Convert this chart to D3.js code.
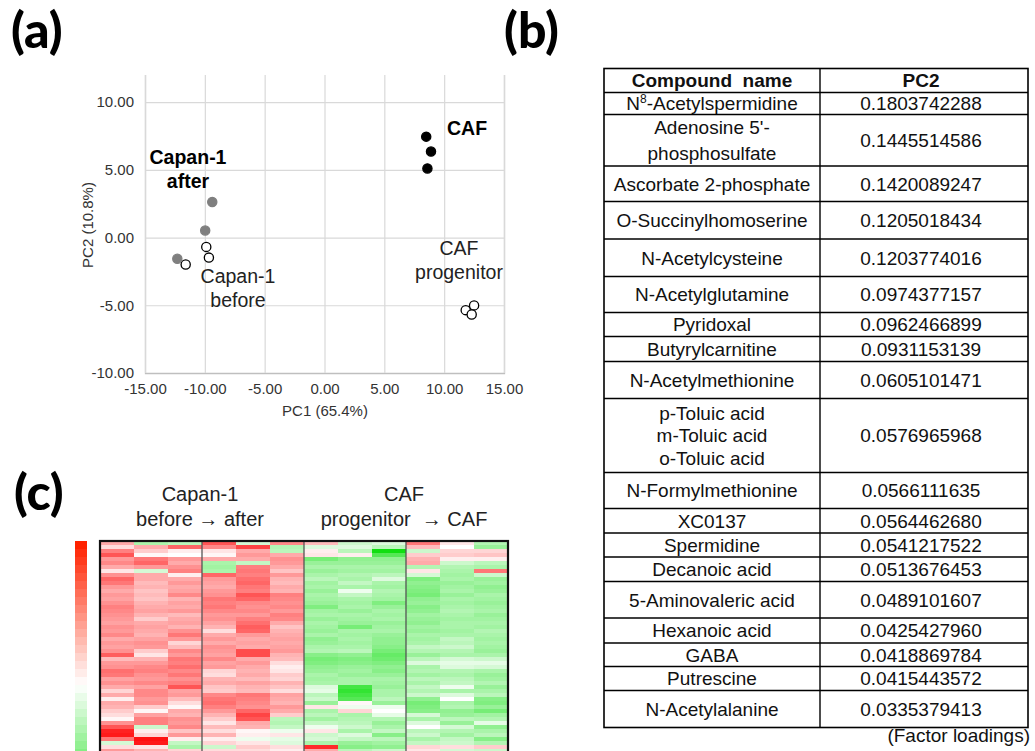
<!DOCTYPE html>
<html>
<head>
<meta charset="utf-8">
<script src="https://cdn.jsdelivr.net/npm/d3@7"></script>
<style>
  body { margin: 0; background: #fff; }
  svg { display: block; }
  text { font-family: "Liberation Sans", Arial, sans-serif; }
</style>
</head>
<body>
<svg id="fig" width="1035" height="751"></svg>
<script>
// ---- (a) PCA scores ----
const capanBeforePts = [[-9.88, -0.69], [-9.66, -1.48], [-11.6, -1.99]];
const capanAfterPts = [[-9.38, 2.63], [-9.97, 0.52], [-12.3, -1.57]];
const cafProgenitorPts = [[12.5, -5.01], [11.8, -5.36], [12.3, -5.68]];
const cafPts = [[8.5, 7.45], [8.9, 6.35], [8.6, 5.1]];
const pcaTicksX = [-15, -10, -5, 0, 5, 10, 15];
const pcaTicksY = [-10, -5, 0, 5, 10];

// ---- (b) factor loadings ----
const compoundNames = [
  ["N^8-Acetylspermidine"], ["Adenosine 5'-", "phosphosulfate"], ["Ascorbate 2-phosphate"],
  ["O-Succinylhomoserine"], ["N-Acetylcysteine"], ["N-Acetylglutamine"], ["Pyridoxal"],
  ["Butyrylcarnitine"], ["N-Acetylmethionine"], ["p-Toluic acid", "m-Toluic acid", "o-Toluic acid"],
  ["N-Formylmethionine"], ["XC0137"], ["Spermidine"], ["Decanoic acid"], ["5-Aminovaleric acid"],
  ["Hexanoic acid"], ["GABA"], ["Putrescine"], ["N-Acetylalanine"]
];
const pc2Loadings = [
  0.1803742288, 0.1445514586, 0.1420089247, 0.1205018434, 0.1203774016, 0.0974377157,
  0.0962466899, 0.0931153139, 0.0605101471, 0.0576965968, 0.0566111635, 0.0564462680,
  0.0541217522, 0.0513676453, 0.0489101607, 0.0425427960, 0.0418869784, 0.0415443572,
  0.0335379413
];

// ---- (c) heatmap, z-scores per column (rows top to bottom) ----
const capanBefore = [
  [1.0,0.4,1.5,2.0,1.2,1.4,1.0,0.3,1.3,1.8,1.6,1.2,1.0, 1.2,1.1,1.3,1.5,1.4,1.3,1.2,1.1,1.3,1.2,1.4,1.0,
   1.2,1.1,1.3,1.9,0.8,1.2,1.3,1.7,1.6,1.1,1.3,1.0,0.5, 1.0,0.2,1.0,0.9,0.6,0.4,0.1,1.3,2.0,2.6,2.7,1.6,-0.5,0.4,1.2,1.0],
  [-1.0,1.0,0.6,0.1,1.6,1.8,1.2,-0.5,1.0,1.0,0.8,0.9,0.7, 0.8,0.7,0.9,1.0,1.1,0.9,0.6,1.0,1.1,1.0,0.9,1.1,
   1.3,1.2,0.6,0.3,0.9,1.2,1.4,1.5,1.3,1.2,1.4,1.1,1.4, 1.4,1.2,1.3,0.6,0.1,1.1,1.5,1.5,-0.6,0.2,0.5,2.8,2.7,0.3,0.9,0.6],
  [-0.8,1.8,0.2,0.0,1.2,1.0,1.3,1.5,0.2,1.0,1.2,1.0,1.1, 1.4,0.9,1.1,1.0,1.2,0.8,1.0,1.1,0.9,1.3,1.6,1.2,
   0.5,0.8,1.4,1.2,1.6,1.5,1.7,1.4,1.6,1.3,1.5,2.0,1.1, 1.2,0.8,0.4,0.1,1.0,0.9,1.3,1.2,1.4,0.7,1.2,0.2,-0.7,-1.0,0.5,0.8]
];
const capanAfter = [
  [2.0,1.4,0.3,0.1,1.0,-1.0,-1.1,-1.0,1.8,1.2,1.1,1.0,1.2, 1.3,1.6,1.5,1.6,1.4,1.2,1.3,1.1,0.9,0.4,1.0,1.2,
   1.0,1.3,1.2,1.1,1.4,1.1,1.2,0.5,0.4,0.9,1.0,0.7,0.6, 1.4,1.6,1.7,1.5,1.2,0.9,0.6,0.3,0.8,0.4,0.9,0.2,0.5,-0.6,0.4,0.6],
  [-0.5,2.2,1.0,1.2,1.0,-0.7,1.5,1.6,1.5,1.7,1.8,1.6,1.5, 2.0,1.8,1.4,1.3,1.4,1.2,1.5,1.7,1.9,1.8,1.2,1.0,
   1.1,1.0,2.1,2.1,1.0,1.2,1.0,0.9,1.0,0.8,1.1,0.9,0.8, 1.6,1.5,1.4,1.3,1.8,2.2,2.0,1.0,0.9,0.1,0.2,-0.2,0.3,0.6,0.4,0.5],
  [1.4,-0.9,-0.8,1.0,1.3,1.2,1.0,0.7,1.2,0.9,0.8,1.0,0.9, 1.5,1.4,1.3,1.4,1.2,1.5,1.4,1.0,0.7,0.9,1.0,1.1,
   1.0,1.1,1.2,0.9,0.8,0.4,0.2,0.3,0.6,0.5,0.9,0.7,0.4, 1.1,1.0,0.9,1.2,1.0,0.6,-0.8,-0.9,-0.7,-0.2,0.3,-0.3,-0.4,0.4,0.2,0.3]
];
const cafProgenitor = [
  [0.8,-0.4,0.2,0.3,-1.6,-1.2,-1.0,-1.2,-1.0,-0.8,-1.1,-1.0,-1.2, -1.0,-1.1,-1.2,-1.5,-1.1,-1.0,-1.2,-1.0,-1.1,-1.2,-1.0,-1.3,
   -1.2,-1.0,-0.9,-1.4,-1.6,-1.5,-1.3,-1.2,-1.0,-1.1,-1.0,-0.4,-0.3, -0.8,-0.6,-1.2,0.3,-1.0,-0.8,-1.1,-0.7,-0.2,0.3,-0.6,-0.5,-1.0,2.5,1.0,0.6],
  [-0.6,-0.4,-0.8,0.2,-1.3,-1.2,-1.0,-1.1,-0.9,-1.0,-0.7,-1.0,-0.2, -0.7,-1.0,-1.1,-1.0,-1.2,-1.0,-1.1,-1.2,-1.6,-1.0,-1.1,-1.0,
   -1.1,-1.0,-0.8,-1.3,-1.5,-1.4,-1.2,-1.1,-1.2,-1.0,-1.0,-2.2,-2.4, -2.2,-2.0,0.1,-0.2,0.5,-1.0,-0.9,-0.8,-0.6,-1.0,-0.4,-0.7,-1.2,-1.4,-0.8,-0.5],
  [-0.4,-0.8,-2.8,-2.0,-1.3,-1.2,-1.0,-1.1,-0.8,-0.4,-1.0,-1.1,-0.9, -1.0,-1.1,-1.5,-1.2,-1.0,-1.1,-1.0,-1.2,-1.1,-1.0,-1.2,-1.3,
   -1.3,-1.4,-1.6,-1.8,-1.7,-1.5,-1.3,-1.4,-1.2,-1.0,-1.1,-1.2,-1.0, -1.0,-0.8,-1.2,-0.2,0.0,-0.3,-0.9,-1.2,-1.0,-0.7,-1.4,-0.8,-1.1,-1.3,-0.6,-0.4]
];
const caf = [
  [1.6,0.8,-0.6,0.6,0.9,1.0,-0.9,0.3,-0.5,-1.5,-1.3,-1.4,-1.5, -1.6,-1.3,-1.2,-1.4,-1.3,-1.1,-1.2,-1.3,-1.1,-1.2,-1.0,-1.1,
   -1.0,-0.7,-0.9,-1.2,-0.8,-0.4,-1.0,-0.9,-1.1,-0.8,-1.0,-0.7,-0.9, -0.6,-1.3,-1.6,-1.5,-1.4,-0.5,-1.0,-0.4,0.0,-0.8,-0.6,-1.0,-0.7,0.5,0.3,-0.3],
  [0.3,0.0,0.5,0.6,0.2,-0.6,-0.9,-1.0,-1.1,-1.0,-1.2,-1.1,-1.0, -1.2,-1.0,-1.1,-1.0,-0.9,-1.0,-1.1,-1.0,-1.0,-1.1,-1.0,-0.7,
   -0.8,-0.6,-0.9,-1.0,-0.5,-0.3,-0.4,-0.9,-1.0,-0.8,-0.7,-0.2,-1.0, -0.4,0.0,-1.0,-0.9,-1.3,-1.2,-0.8,-1.2,-0.5,-0.9,-1.1,-0.7,-0.6,0.4,-0.5,-0.4],
  [-0.9,-1.2,0.5,0.7,0.2,-0.8,-1.0,1.6,-0.6,-1.2,-1.1,-1.3,-1.2, -1.0,-1.1,-1.2,-1.1,-1.0,-1.2,-1.1,-1.0,-1.1,-0.9,-1.0,-1.1,
   -1.0,-1.1,-1.2,-1.0,-0.6,-0.3,-0.5,-1.0,-1.2,-1.1,-0.9,-1.2,-1.0, -0.8,-1.4,-1.5,-1.2,-1.6,-1.1,-0.9,-0.3,-1.3,-1.0,-0.8,-1.4,-0.9,0.6,-0.6,-0.5]
];
const heatGroupTitles = [["Capan-1", "before \u2192 after"], ["CAF", "progenitor  \u2192 CAF"]];

const svg = d3.select("#fig");
svg.append("rect").attr("width", 1035).attr("height", 751).attr("fill", "#fff");

// panel letters
const letters = [["(a)", 11, 48], ["(b)", 504, 48], ["(c)", 14, 510]];
letters.forEach(([t, lx, ly]) => {
  svg.append("text").attr("x", lx).attr("y", ly).text(t)
    .style("font-family", "Lato, 'Open Sans', sans-serif")
    .style("font-weight", 900).style("font-size", "50px").attr("fill", "#000");
});

// ================= (a) scatter =================
const x = d3.scaleLinear().domain([-15, 15]).range([145, 504]);
const y = d3.scaleLinear().domain([-10, 12]).range([373, 75]);
const fmt = (d) => d.toFixed(2);

const gridX = svg.append("g")
  .attr("transform", `translate(0,${y(-10)})`)
  .call(d3.axisBottom(x).tickValues(pcaTicksX).tickSize(-(y(-10) - y(12))).tickFormat(fmt).tickPadding(10));
gridX.select(".domain").attr("stroke", "#bfbfbf").attr("stroke-width", 1.3);
gridX.selectAll(".tick line").attr("stroke", "#d9d9d9").attr("stroke-width", 1.2);
gridX.selectAll("text").style("font-size", "15px").attr("fill", "#333");

const gridY = svg.append("g")
  .attr("transform", `translate(${x(-15)},0)`)
  .call(d3.axisLeft(y).tickValues(pcaTicksY).tickSize(-(x(15) - x(-15))).tickFormat(fmt).tickPadding(11));
gridY.select(".domain").remove();
gridY.selectAll(".tick line").attr("stroke", "#d9d9d9").attr("stroke-width", 1.2);
gridY.selectAll(".tick").filter((d) => d === -10).select("line").remove();
gridY.selectAll("text").style("font-size", "15px").attr("fill", "#333");

svg.append("text").attr("x", 325).attr("y", 416).attr("text-anchor", "middle")
  .style("font-size", "15px").attr("fill", "#333").text("PC1 (65.4%)");
svg.append("text").attr("transform", "translate(93,225) rotate(-90)").attr("text-anchor", "middle")
  .style("font-size", "15px").attr("fill", "#333").text("PC2 (10.8%)");

const seriesStyles = [
  { pts: capanBeforePts, fill: "#fff", stroke: "#000" },
  { pts: capanAfterPts, fill: "#7f7f7f", stroke: "#7f7f7f" },
  { pts: cafProgenitorPts, fill: "#fff", stroke: "#000" },
  { pts: cafPts, fill: "#000", stroke: "#000" }
];
seriesStyles.forEach((s) => {
  svg.append("g").selectAll("circle").data(s.pts).join("circle")
    .attr("cx", (d) => x(d[0])).attr("cy", (d) => y(d[1])).attr("r", 4.6)
    .attr("fill", s.fill).attr("stroke", s.stroke).attr("stroke-width", 1.3);
});

// group labels
const pcaLabels = [
  { lines: ["CAF"], x: 447, y: 135, bold: true, anchor: "start" },
  { lines: ["Capan-1", "after"], x: 188, y: 164, bold: true, anchor: "middle" },
  { lines: ["Capan-1", "before"], x: 238, y: 283, bold: false, anchor: "middle" },
  { lines: ["CAF", "progenitor"], x: 459, y: 255, bold: false, anchor: "middle" }
];
pcaLabels.forEach((l) => {
  const t = svg.append("text").attr("x", l.x).attr("y", l.y).attr("text-anchor", l.anchor)
    .style("font-size", "19.5px").style("font-weight", l.bold ? 700 : 400)
    .attr("fill", l.bold ? "#000" : "#222");
  l.lines.forEach((s, i) => t.append("tspan").attr("x", l.x).attr("dy", i ? 24 : 0).text(s));
});

// ================= (b) table =================
const tLeft = 604, tMid = 820, tRight = 1028, tTop = 68.5;
const rowHeights = [24, 22, 51.5, 35.5, 37.5, 37.5, 36, 24, 25, 37, 74, 36, 24.5, 24, 24.5, 36.5, 25, 23.5, 24, 37];
const rowEdges = [tTop];
rowHeights.forEach((h) => rowEdges.push(rowEdges[rowEdges.length - 1] + h));
const tBottom = rowEdges[rowEdges.length - 1];
const table = svg.append("g");

const rows = [{ name: ["Compound  name"], val: "PC2", header: true }].concat(
  compoundNames.map((n, i) => ({ name: n, val: pc2Loadings[i].toFixed(10), header: false }))
);
rows.forEach((r, i) => {
  const cy = (rowEdges[i] + rowEdges[i + 1]) / 2;
  const lh = r.name.length > 2 ? 22.5 : 25.5;
  r.name.forEach((line, j) => {
    const ty = cy + (j - (r.name.length - 1) / 2) * lh;
    const t = table.append("text").attr("x", (tLeft + tMid) / 2).attr("y", ty).attr("dy", "0.36em")
      .attr("text-anchor", "middle").style("font-size", "19px").style("white-space", "pre")
      .style("font-weight", r.header ? 700 : 400).attr("fill", "#111");
    const m = line.match(/^(.*)\^(\d+)(.*)$/);
    if (m) {
      t.append("tspan").text(m[1]);
      t.append("tspan").attr("baseline-shift", "7").style("font-size", "12px").text(m[2]);
      t.append("tspan").text(m[3]);
    } else t.text(line);
  });
  table.append("text").attr("x", (tMid + tRight) / 2 - 3).attr("y", cy).attr("dy", "0.36em")
    .attr("text-anchor", "middle").style("font-size", "19px")
    .style("font-weight", r.header ? 700 : 400).attr("fill", "#111").text(r.val);
});
rowEdges.slice(1, -1).forEach((ey) => {
  table.append("line").attr("x1", tLeft).attr("x2", tRight).attr("y1", ey).attr("y2", ey)
    .attr("stroke", "#000").attr("stroke-width", 1.4);
});
table.append("line").attr("x1", tMid).attr("x2", tMid).attr("y1", tTop).attr("y2", tBottom)
  .attr("stroke", "#000").attr("stroke-width", 1.4);
table.append("rect").attr("x", tLeft).attr("y", tTop).attr("width", tRight - tLeft).attr("height", tBottom - tTop)
  .attr("fill", "none").attr("stroke", "#000").attr("stroke-width", 1.6);
svg.append("text").attr("x", 1030).attr("y", 742).attr("text-anchor", "end")
  .style("font-size", "19px").attr("fill", "#111").text("(Factor loadings)");

// ================= (c) heatmap =================
const heatGroups = [capanBefore, capanAfter, cafProgenitor, caf];
const nRows = capanBefore[0].length;
const colIds = d3.range(12);
const hx = d3.scaleBand().domain(colIds).range([100, 508]);
const hy = d3.scaleBand().domain(d3.range(nRows)).range([541, 541 + nRows * 4]);
const heatColor = d3.scaleLinear().domain([-3, 0, 3]).range(["#00dd00", "#ffffff", "#ff0000"]).clamp(true);

const cells = [];
heatGroups.forEach((g, gi) => g.forEach((col, ci) => col.forEach((v, ri) => cells.push({ c: gi * 3 + ci, r: ri, v }))));
svg.append("g").selectAll("rect").data(cells).join("rect")
  .attr("x", (d) => hx(d.c)).attr("y", (d) => hy(d.r))
  .attr("width", hx.bandwidth() + 0.4).attr("height", hy.bandwidth() + 0.4)
  .attr("fill", (d) => heatColor(d.v));

[3, 6, 9].forEach((c) => {
  svg.append("line").attr("x1", hx(c)).attr("x2", hx(c)).attr("y1", 541).attr("y2", 760)
    .attr("stroke", "#555").attr("stroke-width", 1.3);
});
svg.append("rect").attr("x", 100).attr("y", 541).attr("width", 408).attr("height", 240)
  .attr("fill", "none").attr("stroke", "#111").attr("stroke-width", 2.2);

heatGroupTitles.forEach((lines, i) => {
  const cx = (hx(i * 6) + hx(i * 6 + 5) + hx.bandwidth()) / 2;
  const t = svg.append("text").attr("text-anchor", "middle").style("font-size", "20px")
    .style("white-space", "pre").attr("fill", "#222");
  lines.forEach((s, j) => t.append("tspan").attr("x", cx - 2).attr("y", 501 + j * 25).text(s));
});

// colour key
const keySteps = d3.range(36);
const keyY = d3.scaleBand().domain(keySteps).range([541, 829]);
const keyVal = d3.scaleLinear().domain([0, 35]).range([3, -3]);
const keyColor = d3.scaleLinear().domain([-3, 0, 3]).range(["#00dd00", "#ffffff", "#ff2200"]);
svg.append("g").selectAll("rect").data(keySteps).join("rect")
  .attr("x", 75).attr("y", (d) => keyY(d)).attr("width", 12).attr("height", keyY.bandwidth() + 0.3)
  .attr("fill", (d) => keyColor(keyVal(d)));
</script>
</body>
</html>
